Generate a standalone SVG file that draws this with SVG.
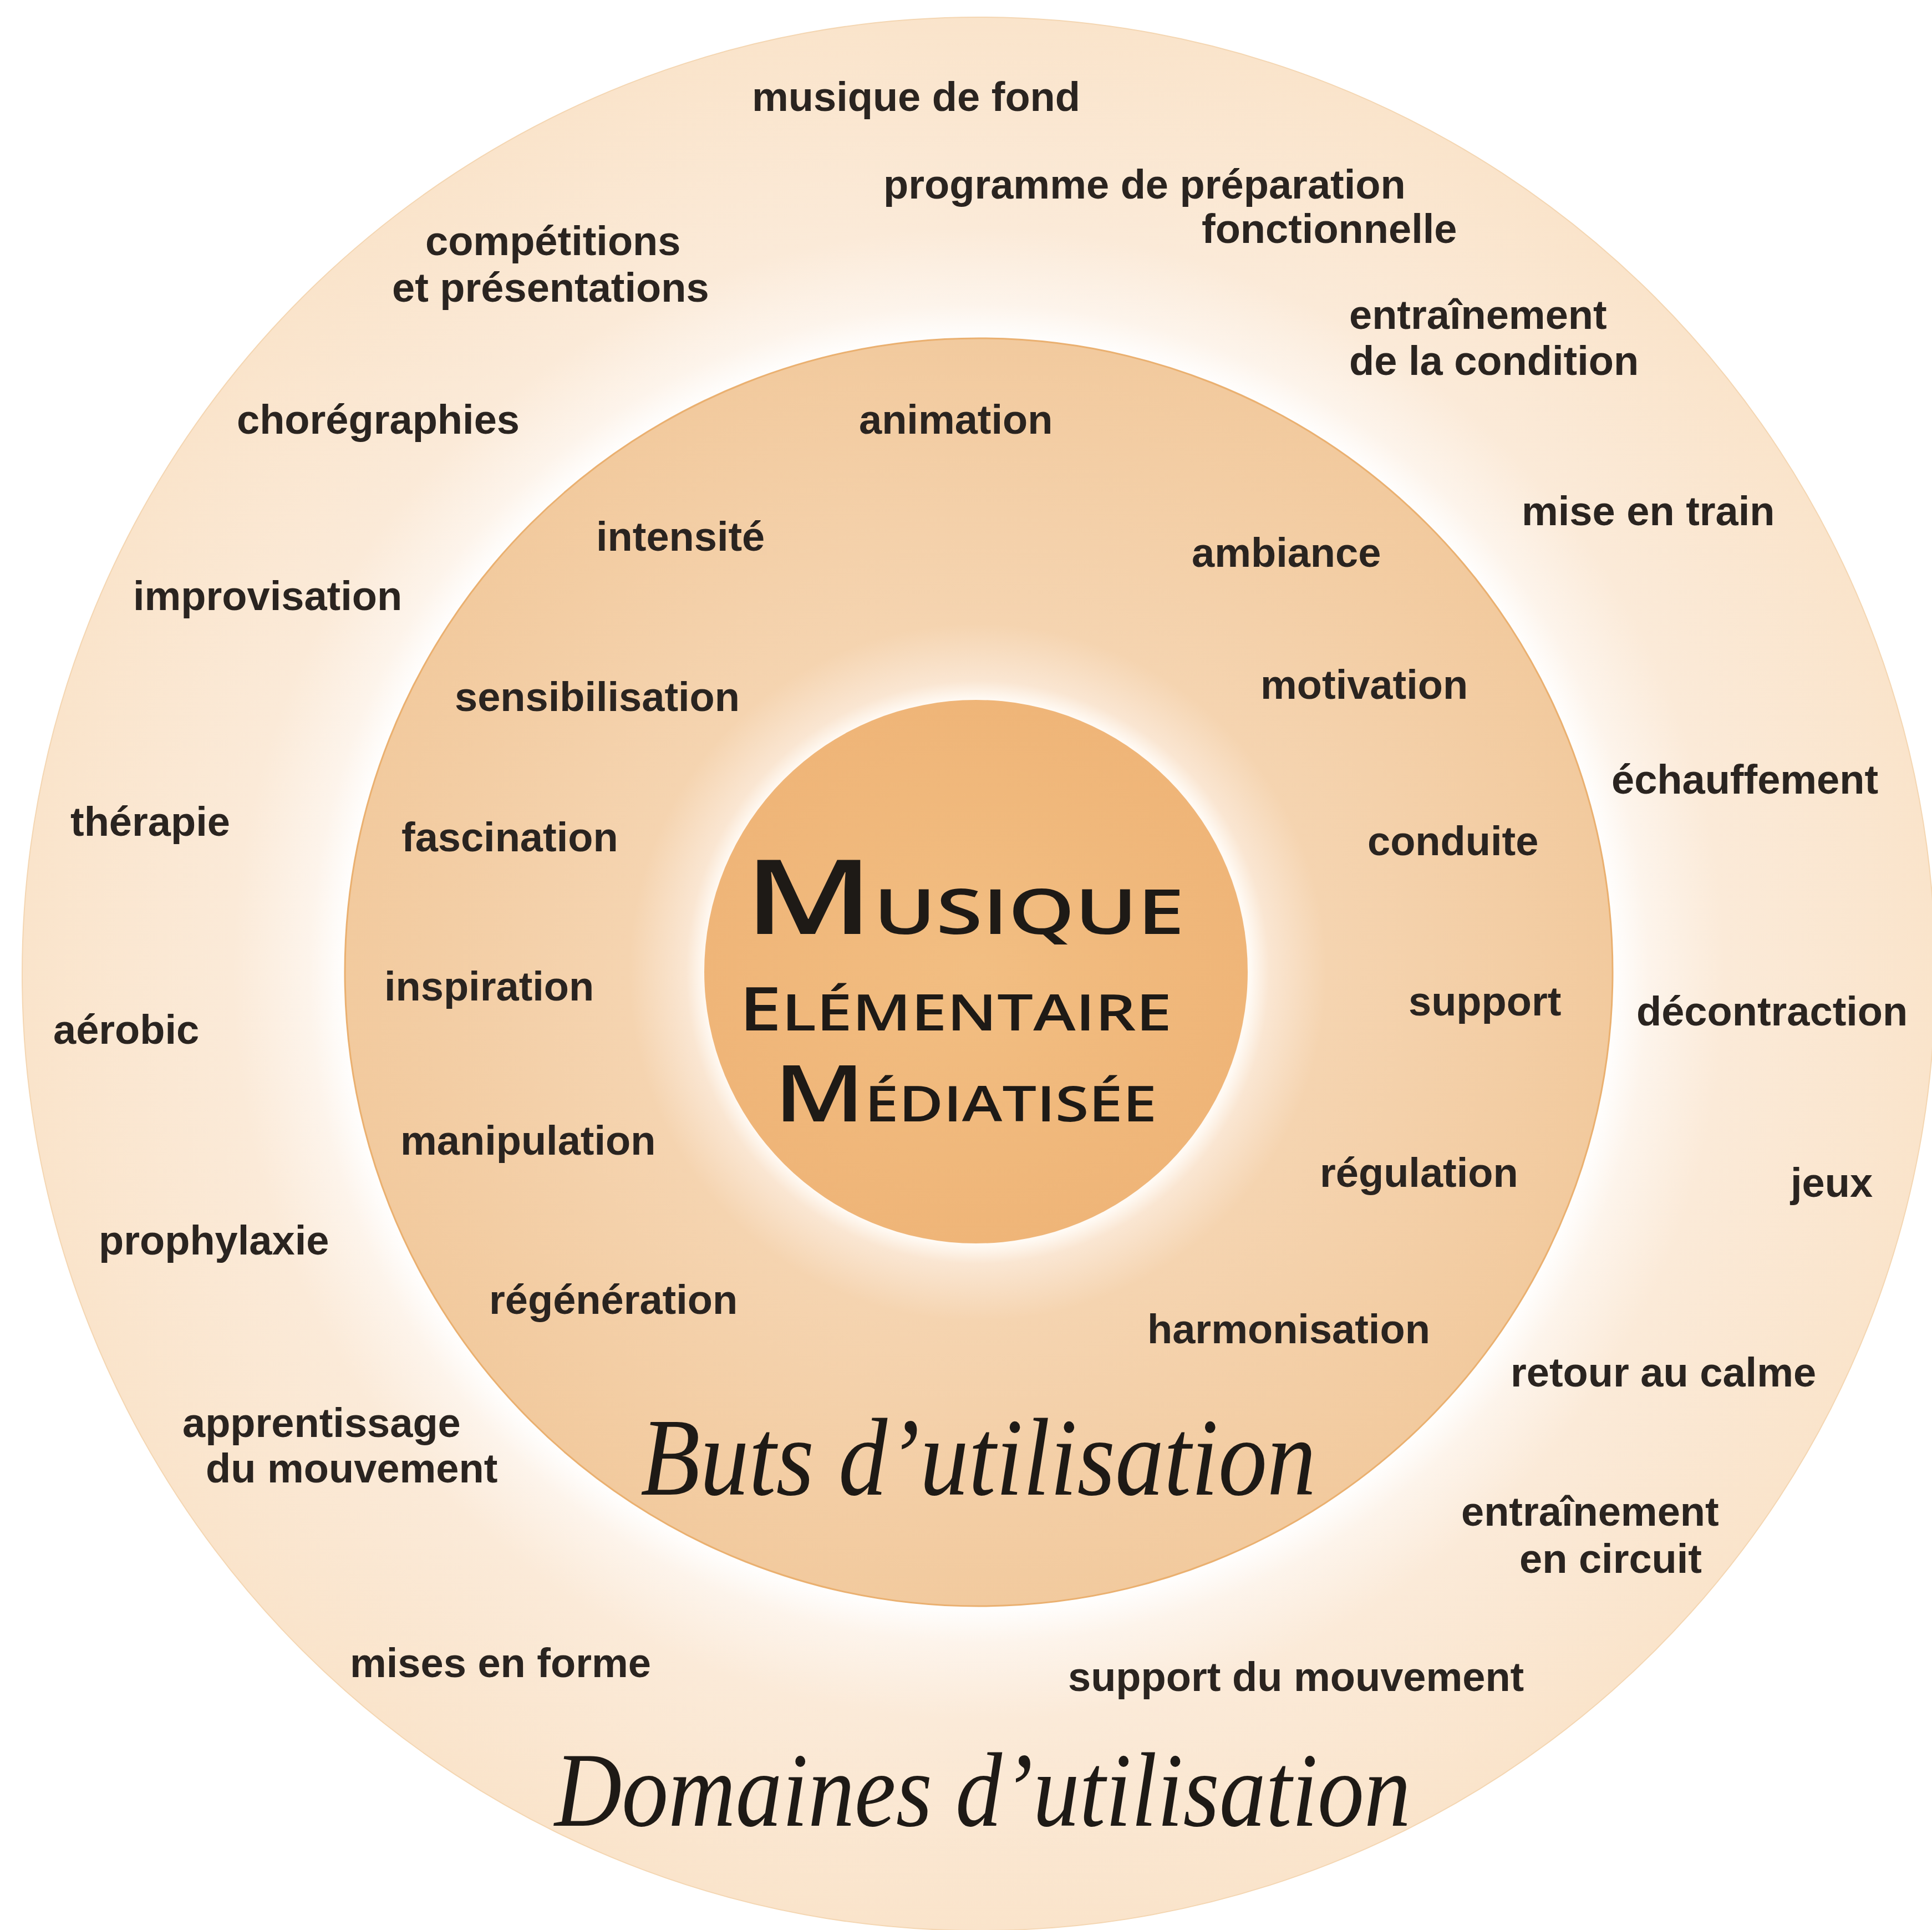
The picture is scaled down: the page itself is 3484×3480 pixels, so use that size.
<svg xmlns="http://www.w3.org/2000/svg" width="3484" height="3480" viewBox="0 0 3484 3480">
<defs>
  <radialGradient id="gOuter" cx="1765" cy="1756" r="1725" gradientUnits="userSpaceOnUse">
    <stop offset="0.66" stop-color="#ffffff"/>
    <stop offset="0.70" stop-color="#fdf4eb"/>
    <stop offset="0.78" stop-color="#fbead8"/>
    <stop offset="1" stop-color="#fae4cb"/>
  </radialGradient>
  <radialGradient id="gMiddle" cx="1763" cy="1753" r="1143" gradientUnits="userSpaceOnUse">
    <stop offset="0.43" stop-color="#fffaf4"/>
    <stop offset="0.46" stop-color="#fae6d2"/>
    <stop offset="0.55" stop-color="#f5d4b0"/>
    <stop offset="1" stop-color="#f2ca9e"/>
  </radialGradient>
  <radialGradient id="gInner" cx="1760" cy="1752" r="490" gradientUnits="userSpaceOnUse">
    <stop offset="0" stop-color="#f2be82"/>
    <stop offset="1" stop-color="#efb578"/>
  </radialGradient>
  <style>
    .lbl { font-family: "Liberation Sans", Arial, sans-serif; font-weight: bold; font-size: 74px; fill: #2a2420; }
    .hand { font-family: "Open Sans", "DejaVu Sans", sans-serif; font-weight: 600; fill: #1e1a16; font-variant: small-caps; }
    .cur { font-family: "Liberation Serif", serif; font-style: italic; fill: #1e1a16; }
  </style>
</defs>
<rect x="0" y="0" width="3484" height="3480" fill="#ffffff"/>

<g id="ring-domaines">
  <circle cx="1765" cy="1756" r="1725" fill="url(#gOuter)" stroke="#f4d6b2" stroke-width="2"/>
</g>
<g id="ring-buts">
  <circle cx="1765" cy="1753" r="1143" fill="url(#gMiddle)" stroke="#eab070" stroke-width="3"/>
</g>
<g id="core">
  <circle cx="1760" cy="1752" r="490" fill="url(#gInner)"/>
  <text class="hand" x="1342" y="1684" textLength="794" lengthAdjust="spacingAndGlyphs"><tspan font-size="186">M</tspan><tspan font-size="160">usique</tspan></text>
  <text class="hand" x="1333" y="1858" textLength="780" lengthAdjust="spacingAndGlyphs"><tspan font-size="108">E</tspan><tspan font-size="130">lémentaire</tspan></text>
  <text class="hand" x="1396" y="2022" textLength="690" lengthAdjust="spacingAndGlyphs"><tspan font-size="142">M</tspan><tspan font-size="126">édiatisée</tspan></text>
</g>

<g id="title-buts">
  <text class="cur" x="1155" y="2695" font-size="200" textLength="1218" lengthAdjust="spacingAndGlyphs">Buts d’utilisation</text>
</g>
<g id="title-domaines">
  <text class="cur" x="1000" y="3292" font-size="190" textLength="1544" lengthAdjust="spacingAndGlyphs">Domaines d’utilisation</text>
</g>

<g id="domaines-labels">
  <g id="d-musique-de-fond"><text class="lbl" x="1356" y="200">musique de fond</text></g>
  <g id="d-programme"><text class="lbl" x="1593" y="358">programme de préparation</text><text class="lbl" x="2167" y="438">fonctionnelle</text></g>
  <g id="d-competitions"><text class="lbl" x="767" y="460">compétitions</text><text class="lbl" x="707" y="544">et présentations</text></g>
  <g id="d-entrainement-condition"><text class="lbl" x="2433" y="593">entraînement</text><text class="lbl" x="2433" y="676">de la condition</text></g>
  <g id="d-choregraphies"><text class="lbl" x="427" y="782">chorégraphies</text></g>
  <g id="d-mise-en-train"><text class="lbl" x="2744" y="947">mise en train</text></g>
  <g id="d-improvisation"><text class="lbl" x="240" y="1100">improvisation</text></g>
  <g id="d-echauffement"><text class="lbl" x="2906" y="1431">échauffement</text></g>
  <g id="d-therapie"><text class="lbl" x="127" y="1507">thérapie</text></g>
  <g id="d-decontraction"><text class="lbl" x="2951" y="1849">décontraction</text></g>
  <g id="d-aerobic"><text class="lbl" x="96" y="1882">aérobic</text></g>
  <g id="d-jeux"><text class="lbl" x="3229" y="2158">jeux</text></g>
  <g id="d-prophylaxie"><text class="lbl" x="178" y="2262">prophylaxie</text></g>
  <g id="d-retour-au-calme"><text class="lbl" x="2724" y="2500">retour au calme</text></g>
  <g id="d-apprentissage"><text class="lbl" x="329" y="2591">apprentissage</text><text class="lbl" x="371" y="2673">du mouvement</text></g>
  <g id="d-entrainement-circuit"><text class="lbl" x="2635" y="2751">entraînement</text><text class="lbl" x="2740" y="2836">en circuit</text></g>
  <g id="d-mises-en-forme"><text class="lbl" x="631" y="3024">mises en forme</text></g>
  <g id="d-support-mouvement"><text class="lbl" x="1926" y="3049">support du mouvement</text></g>
</g>

<g id="buts-labels">
  <g id="b-animation"><text class="lbl" x="1549" y="782">animation</text></g>
  <g id="b-intensite"><text class="lbl" x="1075" y="993">intensité</text></g>
  <g id="b-ambiance"><text class="lbl" x="2149" y="1022">ambiance</text></g>
  <g id="b-sensibilisation"><text class="lbl" x="820" y="1282">sensibilisation</text></g>
  <g id="b-motivation"><text class="lbl" x="2273" y="1260">motivation</text></g>
  <g id="b-fascination"><text class="lbl" x="724" y="1535">fascination</text></g>
  <g id="b-conduite"><text class="lbl" x="2466" y="1542">conduite</text></g>
  <g id="b-inspiration"><text class="lbl" x="693" y="1804">inspiration</text></g>
  <g id="b-support"><text class="lbl" x="2540" y="1831">support</text></g>
  <g id="b-manipulation"><text class="lbl" x="722" y="2082">manipulation</text></g>
  <g id="b-regulation"><text class="lbl" x="2380" y="2140">régulation</text></g>
  <g id="b-regeneration"><text class="lbl" x="882" y="2369">régénération</text></g>
  <g id="b-harmonisation"><text class="lbl" x="2069" y="2422">harmonisation</text></g>
</g>
</svg>
